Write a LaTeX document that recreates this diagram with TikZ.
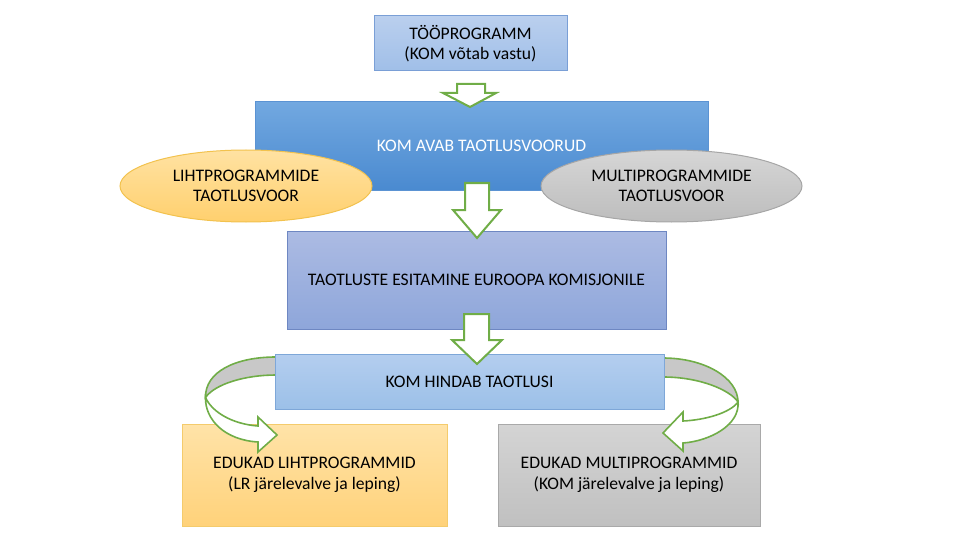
\documentclass[tikz,border=0pt]{standalone}
\usepackage{fontspec}
\setmainfont{Carlito}
\usetikzlibrary{shapes.geometric}
\definecolor{grn}{HTML}{70AD47}
\definecolor{HTML7A9FD6}{HTML}{7A9FD6}
\definecolor{HTMLBACFEE}{HTML}{BACFEE}
\definecolor{HTMLA0BFE8}{HTML}{A0BFE8}
\definecolor{HTMLC8C8C8}{HTML}{C8C8C8}
\definecolor{avabT}{HTML}{72A8E0}
\definecolor{avabB}{HTML}{4A8AD0}
\definecolor{avabD}{HTML}{5B93D3}
\definecolor{orT}{HTML}{FFE2A2}
\definecolor{orB}{HTML}{FFD06E}
\definecolor{orD}{HTML}{F2C24E}
\definecolor{grT}{HTML}{D6D6D6}
\definecolor{grB}{HTML}{BDBDBD}
\definecolor{grD}{HTML}{A6A6A6}
\definecolor{esT}{HTML}{ACBBE3}
\definecolor{esB}{HTML}{8EA6DA}
\definecolor{esD}{HTML}{6E87C2}
\definecolor{hiT}{HTML}{B4CEEF}
\definecolor{hiB}{HTML}{9CC0E8}
\definecolor{hiD}{HTML}{7EA7D8}
\definecolor{obT}{HTML}{FFE3A8}
\definecolor{obB}{HTML}{FFD27A}
\definecolor{obD}{HTML}{F4CB6C}
\definecolor{gbT}{HTML}{D4D4D4}
\definecolor{gbB}{HTML}{C0C0C0}
\definecolor{gbD}{HTML}{A9A9A9}
\tikzset{
  lbl/.style={font=\fontsize{17.6}{20.5}\selectfont, align=center, text=black, inner sep=0pt},
  boxbase/.style={lbl, draw, line width=1pt, rectangle},
  progbox/.style={boxbase, draw=HTML7A9FD6, top color=HTMLBACFEE, bottom color=HTMLA0BFE8},
  arr/.style={draw=grn, line width=2pt, fill=white, line join=miter},
  band/.style={draw=grn, line width=1.6pt, fill=HTMLC8C8C8},
  wband/.style={draw=grn, line width=1.6pt, fill=white, line join=miter},
}
\begin{document}
\begin{tikzpicture}[x=1pt,y=-1pt]
\useasboundingbox (0,0) rectangle (960,540);
% top box
\node[progbox, minimum width=193pt, minimum height=55pt] (prog) at (470.5,43.5) {TÖÖPROGRAMM\\(KOM võtab vastu)};
% KOM avab
\node[boxbase, draw=avabD, top color=avabT, bottom color=avabB, text=white, minimum width=453pt, minimum height=88pt] (avab) at (481.5,146) {KOM AVAB TAOTLUSVOORUD};
% block arrow 1
\draw[arr] (457,84) -- (485,84) -- (485,93) -- (496,93) -- (470,107) -- (443,93) -- (457,93) -- cycle;
% ellipses
\node[lbl, ellipse, draw=orD, line width=1pt, top color=orT, bottom color=orB, minimum width=252pt, minimum height=72pt] (liht) at (246,186) {LIHTPROGRAMMIDE\\TAOTLUSVOOR};
\node[lbl, ellipse, draw=grD, line width=1pt, top color=grT, bottom color=grB, minimum width=261pt, minimum height=72pt] (multi) at (671.5,186) {MULTIPROGRAMMIDE\\TAOTLUSVOOR};
% esitamine
\node[boxbase, draw=esD, top color=esT, bottom color=esB, minimum width=379pt, minimum height=98pt] (esit) at (476.5,280) {TAOTLUSTE ESITAMINE EUROOPA KOMISJONILE};
% block arrow 2
\draw[arr] (465,183) -- (489,183) -- (489,210) -- (501,210) -- (477,238) -- (453,210) -- (465,210) -- cycle;
% curved arrow bands (behind KOM hindab)
\draw[band] (276,357) .. controls (235,357) and (205,372) .. (205.5,397.5) .. controls (215,384) and (245,375) .. (276,375) -- cycle;
\draw[band] (663,358) .. controls (705,358) and (738,378) .. (738,402) .. controls (730,390) and (700,377) .. (663,377) -- cycle;
% hindab
\node[boxbase, draw=hiD, top color=hiT, bottom color=hiB, minimum width=389pt, minimum height=55pt] (hind) at (469.5,381.5) {KOM HINDAB TAOTLUSI};
% block arrow 3
\draw[arr] (464,314) -- (489,314) -- (489,340) -- (502,340) -- (477,364) -- (452,340) -- (464,340) -- cycle;
% bottom boxes
\node[boxbase, draw=obD, top color=obT, bottom color=obB, minimum width=265pt, minimum height=102pt] (edl) at (314.5,475) {EDUKAD LIHTPROGRAMMID\\(LR järelevalve ja leping)};
\node[boxbase, draw=gbD, top color=gbT, bottom color=gbB, minimum width=262pt, minimum height=102pt] (edm) at (629,475) {EDUKAD MULTIPROGRAMMID\\(KOM järelevalve ja leping)};
% curved arrow fronts
\draw[wband] (205.5,397.5) .. controls (212,412) and (232,424) .. (258,426) -- (258,417) -- (277,435) -- (258,452) -- (258,442) .. controls (225,440) and (205,420) .. (205.5,397.5) -- cycle;
\draw[wband] (738,402) .. controls (730,413) and (705,420) .. (683,421) -- (683,412) -- (663,433) -- (683,451) -- (683,443) .. controls (710,441) and (740,425) .. (738,402) -- cycle;
\end{tikzpicture}
\end{document}
